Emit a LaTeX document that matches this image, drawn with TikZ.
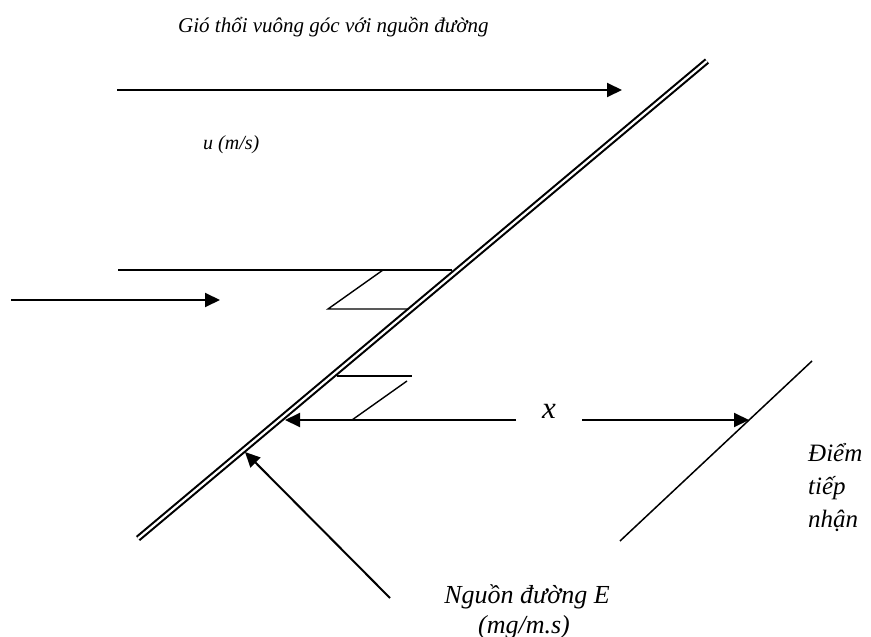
\documentclass[tikz,border=0pt]{standalone}
\usepackage{fontspec}
\setmainfont{Liberation Serif}[ItalicFont={Liberation Serif Italic}]
\usetikzlibrary{arrows.meta}
\begin{document}
\begin{tikzpicture}[x=1pt,y=-1pt,
  lbl/.style={font=\itshape, inner sep=0pt},
  arr/.style={line width=2pt,-{Triangle[length=15pt,width=14pt]}},
  thinline/.style={line width=1.4pt},
  road/.style={double, line width=2.1pt, double distance=2.2pt}]
\useasboundingbox (0,0) rectangle (871,637);
% road (line source)
\coordinate (roadA) at (138,538.5);
\coordinate (roadB) at (707,61);
\draw[road] (roadA) -- (roadB);
% receptor line
\coordinate (recA) at (620,541);
\coordinate (recB) at (812,361);
\draw[line width=1.5pt] (recA) -- (recB);
% texts
\node[lbl, font=\itshape\fontsize{21}{25}\selectfont, anchor=base west] (title) at (178,32) {Gió thổi vuông góc với nguồn đường};
\node[lbl, font=\itshape\fontsize{20}{24}\selectfont, anchor=base west] (speed) at (203,149) {u (m/s)};
\node[lbl, font=\itshape\fontsize{31}{34}\selectfont, anchor=base] (xlab) at (549,418) {x};
\node[lbl, font=\itshape\fontsize{26}{32}\selectfont, anchor=base] (src1) at (527,603) {Nguồn đường E};
\node[lbl, font=\itshape\fontsize{26}{32}\selectfont, anchor=base] (src2) at (524,633) {(mg/m.s)};
\node[lbl, font=\itshape\fontsize{25}{32}\selectfont, anchor=base west] (rc1) at (808,461) {Điểm};
\node[lbl, font=\itshape\fontsize{25}{32}\selectfont, anchor=base west] (rc2) at (808,494) {tiếp};
\node[lbl, font=\itshape\fontsize{25}{32}\selectfont, anchor=base west] (rc3) at (808,527) {nhận};
% wind arrows
\coordinate (w1s) at (117,90);
\coordinate (w1e) at (622,90);
\draw[arr] (w1s) -- (w1e);
\coordinate (w2s) at (11,300);
\coordinate (w2e) at (220,300);
\draw[arr] (w2s) -- (w2e);
% upper plume step
\coordinate (h1s) at (118,270);
\coordinate (h1e) at (452,270);
\draw[thinline] (h1s) -- (h1e);
\coordinate (p1a) at (383,270);
\coordinate (p1b) at (328,309);
\coordinate (p1c) at (409,309);
\draw[thinline] (p1a) -- (p1b) -- (p1c);
% lower plume step
\coordinate (p2a) at (337,376);
\coordinate (p2b) at (412,376);
\draw[thinline] (p2a) -- (p2b);
\coordinate (p2c) at (407,381);
\coordinate (p2d) at (352,420);
\draw[thinline] (p2c) -- (p2d);
% distance x
\coordinate (xl) at (516,420);
\coordinate (xlt) at (285,420);
\coordinate (xr) at (582,420);
\coordinate (xrt) at (749,420);
\draw[arr] (xl) -- (xlt);
\draw[arr] (xr) -- (xrt);
% source arrow
\coordinate (es) at (390,598);
\coordinate (et) at (245,452);
\draw[arr] (es) -- (et);
\end{tikzpicture}
\end{document}
